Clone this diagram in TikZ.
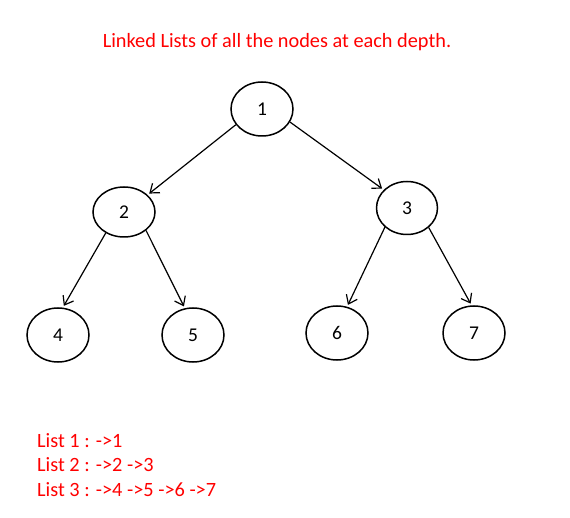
\documentclass[tikz,border=0pt]{standalone}
\usepackage{fontspec}
\setmainfont{Carlito}
\usetikzlibrary{arrows.meta,shapes.geometric}
\begin{document}
\begin{tikzpicture}[x=1pt,y=-1pt,
  tnode/.style={draw,line width=1.5pt,ellipse,minimum width=62pt,minimum height=54pt,inner sep=0pt,font=\fontsize{19.5}{22}\selectfont},
  edge/.style={line width=1.2pt,-{Straight Barb[length=8pt,width=12pt]},shorten >=2pt},
  redtext/.style={text=red,font=\fontsize{20.3}{24}\selectfont,inner sep=0pt}]
\useasboundingbox[fill=white] (0,0) rectangle (570,518);
\node[redtext] (title) at (277,42) {Linked Lists of all the nodes at each depth.};
\node[tnode] (n1) at (262,109) {1};
\node[tnode,minimum width=62pt,minimum height=50pt] (n2) at (124,212) {2};
\node[tnode,minimum width=61pt,minimum height=53pt] (n3) at (407,208) {3};
\node[tnode] (n4) at (58,335) {4};
\node[tnode] (n5) at (193,335) {5};
\node[tnode] (n6) at (337,333) {6};
\node[tnode] (n7) at (474,333) {7};
\draw[edge] (n1.211) -- (n2.36);
\draw[edge] (n1.335) -- (n3.142);
\draw[edge] (n2.229) -- (n4.80);
\draw[edge] (n2.320) -- (n5.107);
\draw[edge] (n3.221) -- (n6.69);
\draw[edge] (n3.318) -- (n7.95);
\node[redtext,anchor=west] (l1) at (37,441) {List 1 : ->1};
\node[redtext,anchor=west] (l2) at (37,465) {List 2 : ->2 ->3};
\node[redtext,anchor=west] (l3) at (37,490) {List 3 : ->4 ->5 ->6 ->7};
\end{tikzpicture}
\end{document}
